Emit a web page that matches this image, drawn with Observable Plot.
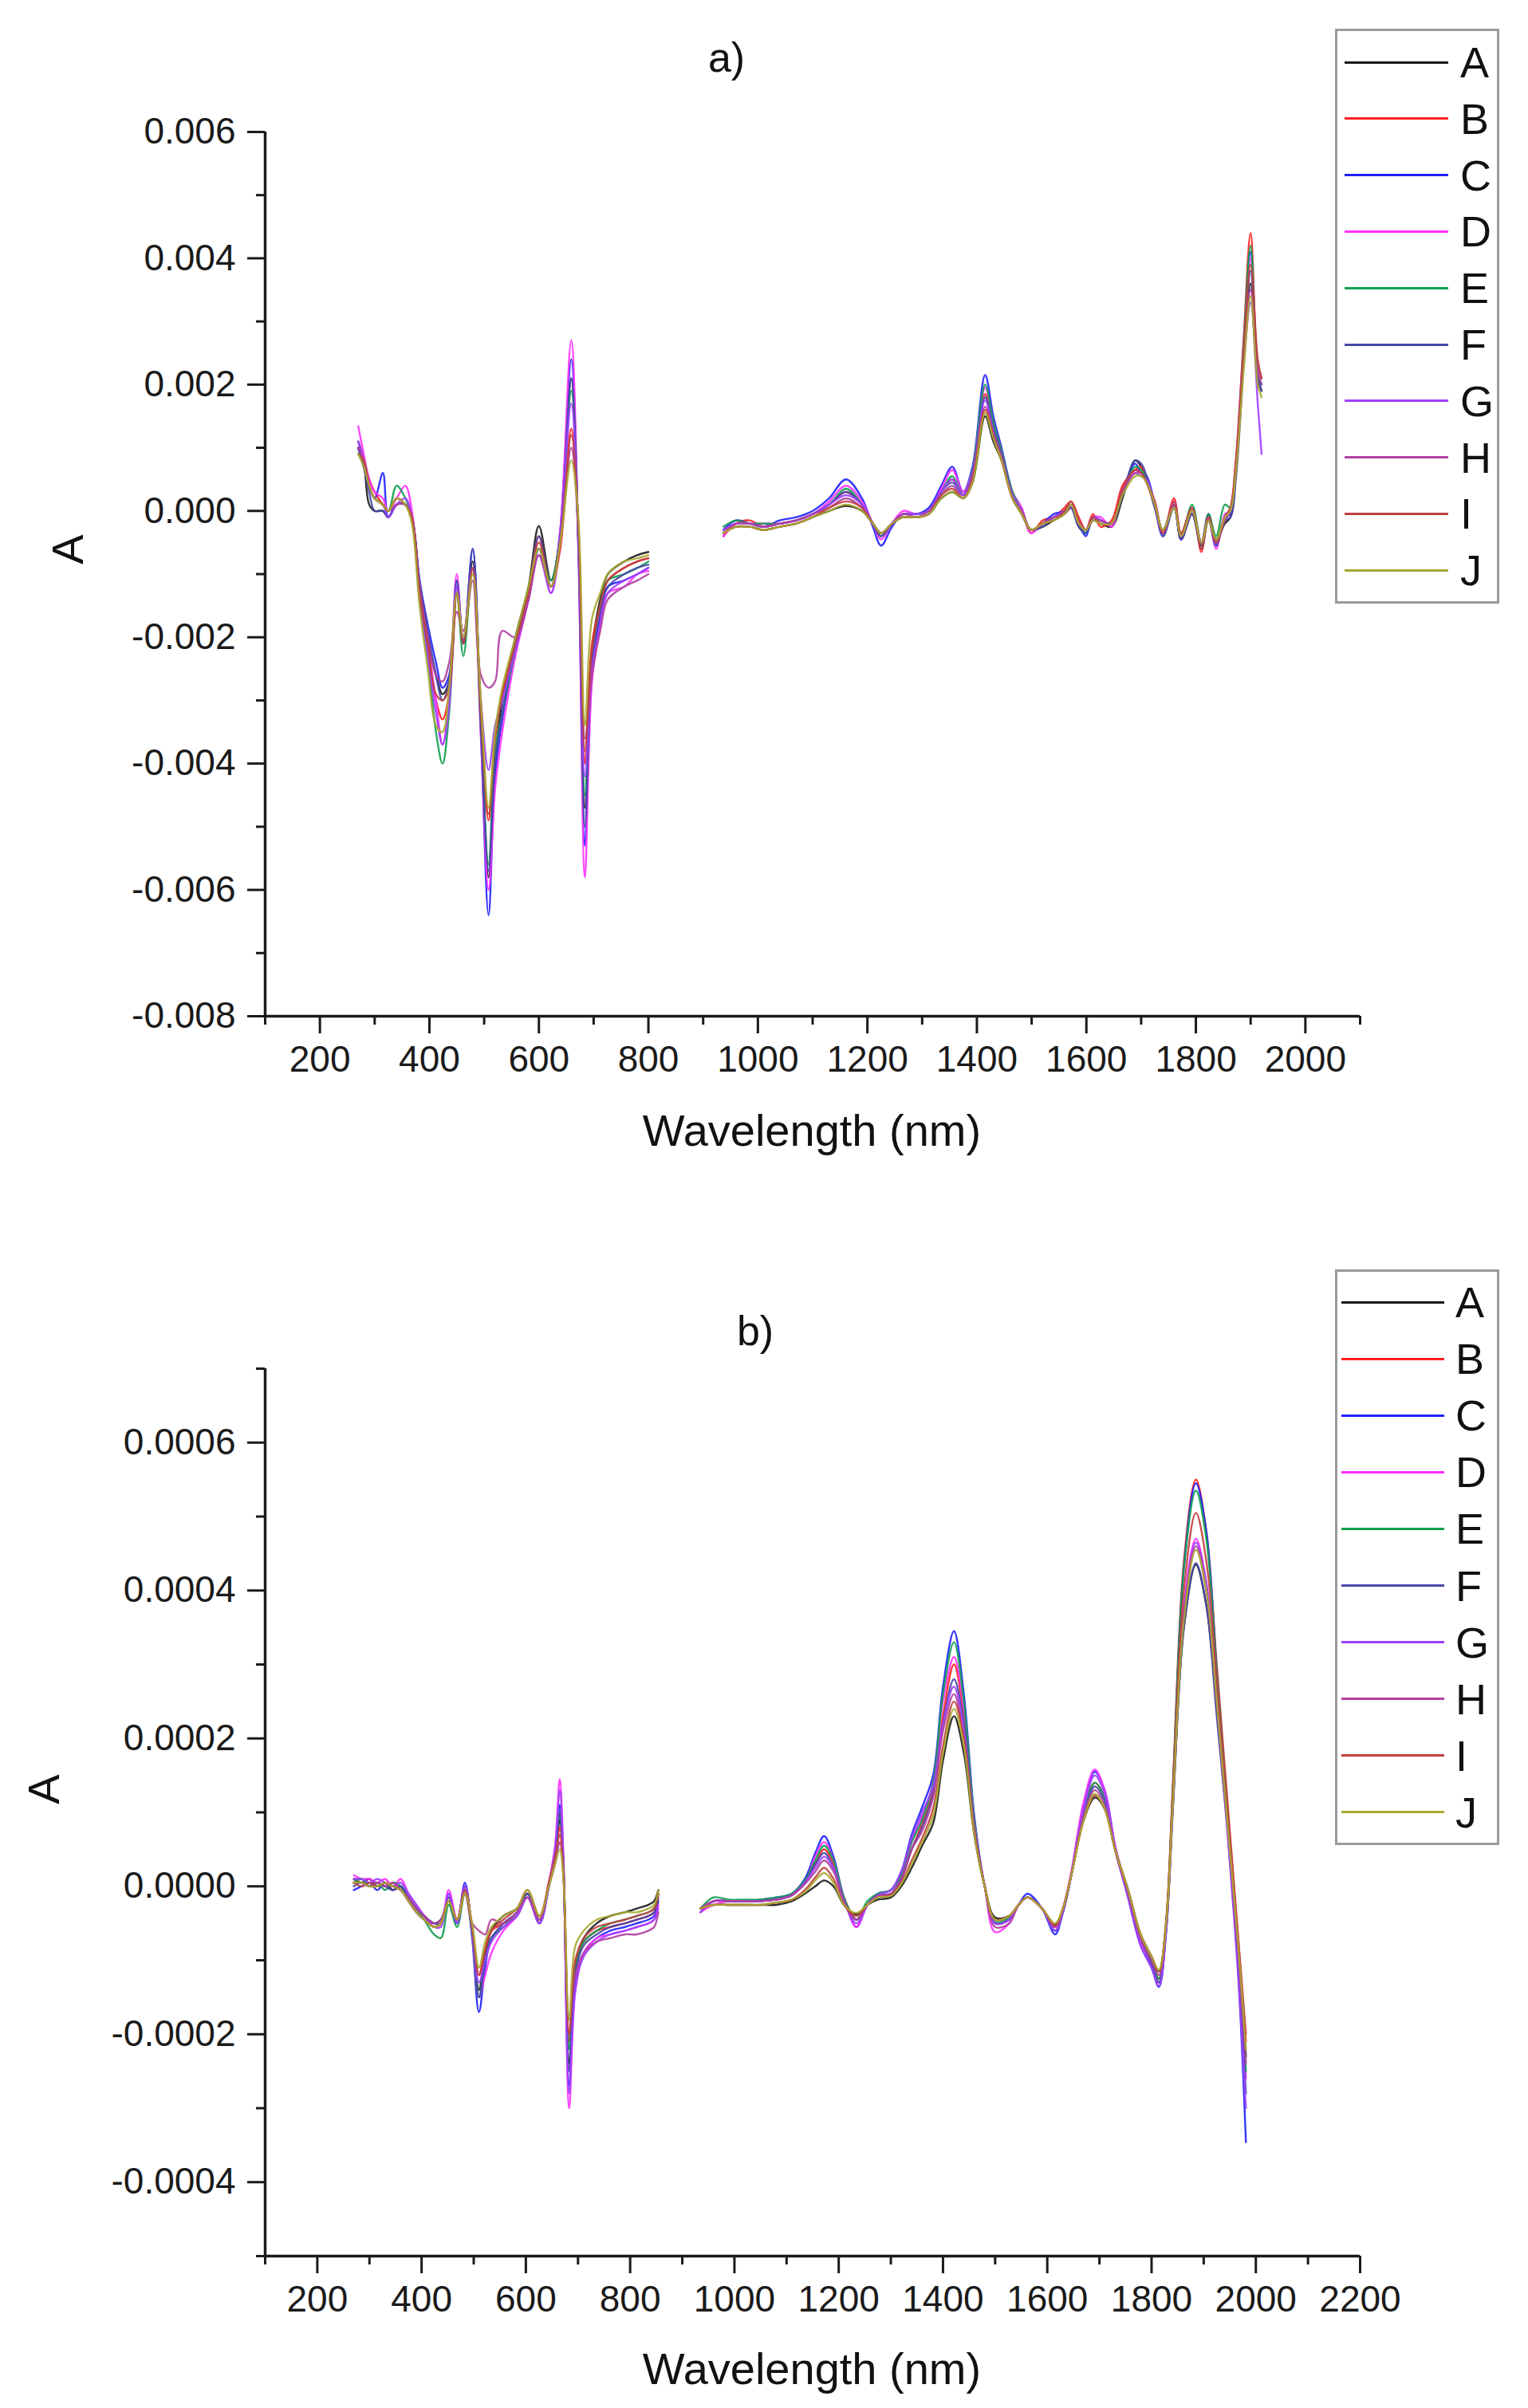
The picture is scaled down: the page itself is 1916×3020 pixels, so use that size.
<!DOCTYPE html>
<html><head><meta charset="utf-8">
<script src="https://cdn.jsdelivr.net/npm/d3@7"></script>
<script src="https://cdn.jsdelivr.net/npm/@observablehq/plot@0.6"></script>
<style>
body{margin:0;background:#fff;}
#page{position:relative;width:1916px;height:3020px;background:#fff;font-family:"Liberation Sans",Arial,sans-serif;color:#111;overflow:hidden;}
.abs{position:absolute;white-space:nowrap;line-height:1;}
.c{transform:translate(-50%,-50%);}
.rot{transform:translate(-50%,-50%) rotate(-90deg);}
.legend{position:absolute;border:3px solid #9a9a9a;box-sizing:border-box;background:#fff;}
svg{position:absolute;left:0;}
</style></head><body><div id="page"></div><script>
// ---------- series ----------
const names = ["A","B","C","D","E","F","G","H","I","J"];
const colors = ["#1a1a1a","#ff2020","#2020ff","#ff30ff","#10a050","#4848a8","#a040ff","#b040a0","#c04040","#a8a830"];

// ---------- panel a) : values in units of 1e-4 ----------
const wlTopVis = [270,280,290,300,315,325,340,356,368,382,397,412,424,436,450,462,479,494,508,520,533,557,581,600,622,639,659,672,684,697,712,726,756,780,800];
const topVis_A = [11,8,1,0,0,-1,1,1,-1,-12,-20,-26,-29,-27,-12,-21,-8,-33,-58,-40,-30,-20,-12,-2.4,-11,-4,21,-4,-47,-22,-14,-10,-8,-7,-6.5];
const topVis_B = [10,8,5,3,1,0,2,1,-1,-13,-22,-30,-33,-29,-13,-21,-9,-32,-49,-36,-29,-21,-13,-4,-12,-6,13,-2,-40,-21,-15,-11,-9,-8,-7.5];
const topVis_C = [10,7,4,2,6,-1,1,1,-1,-11,-18,-24,-28,-26,-11,-21,-6,-35,-64,-42,-33,-22,-14,-6,-12,-3,24,-6,-53,-25,-17,-12,-11,-10,-9];
const topVis_D = [13.4,9,5,3,2,0,2,4,0,-13,-21,-30,-37,-30,-10,-21,-9,-36,-60,-44,-35,-23,-14,-6,-13,-3,27,-5,-58,-27,-18,-13,-12,-10,-9.5];
const topVis_E = [9,8,4,2,1,0,4,2,-1,-13,-23,-35,-40,-32,-13,-23,-9,-34,-56,-38,-32,-22,-13,-6,-11,-4,19,-4,-45,-23,-15,-11,-10,-9,-8];
const topVis_F = [10,7,3,0,0,-1,1,1,-1,-11,-19,-26,-30,-27,-11,-21,-6,-34,-57,-40,-32,-21,-13,-4,-12,-4,21,-5,-50,-24,-16,-12,-10,-9,-8.5];
const topVis_G = [11,8,4,2,1,-1,1,2,-1,-14,-23,-32,-37,-31,-12,-20,-9,-30,-41,-34,-30,-22,-14,-7,-13,-4,17,-4,-42,-25,-18,-13,-11,-10,-9];
const topVis_H = [10,8,4,2,1,0,1,1,-1,-12,-20,-26,-27,-24,-16,-19,-11,-26,-28,-27,-19,-20,-14,-7,-12,-5,10,-3,-36,-26,-19,-14,-12,-11,-10];
const topVis_I = [9,8,4,2,1,0,2,1,-1,-13,-21,-29,-30,-28,-13,-21,-9,-32,-48,-36,-29,-21,-13,-5,-12,-5,12,-2,-38,-22,-15,-11,-9,-8,-7.5];
const topVis_J = [9,7,4,2,1,0,2,1,-2,-15,-25,-34,-35,-28,-13,-20,-10,-30,-47,-35,-28,-20,-12,-6,-12,-5,8,-1,-34,-17,-13,-10,-8,-7.5,-7];

const wlTopNir = [937,960,985,1010,1040,1070,1100,1130,1161,1190,1210,1225,1245,1265,1290,1312,1335,1355,1375,1392,1415,1430,1445,1465,1482,1499,1520,1540,1560,1572,1586,1599,1612,1626,1646,1666,1689,1700,1710,1725,1740,1760,1773,1793,1810,1823,1837,1853,1863,1873,1887,1900,1913,1920];
const topNir_A = [-3.5,-2.5,-2.5,-3,-2.5,-2,-1,0,0.8,0,-2,-3.5,-2,-1,-1,-0.5,2,3,2,4.5,15,11,8,2,-0.5,-3,-2.5,-1.5,-0.5,0.5,-2.5,-3.5,-1.5,-2,-2.5,2,8,7,5,0.5,-3,0.5,-4.5,-0.5,-5.5,-1.5,-4.5,-2,-1,6,24,36,21,19];
const topNir_B = [-4,-2,-1.5,-2.5,-2,-1.5,-0.5,1,3,1,-2,-4,-2,-0.5,-0.5,0,3,5,2.5,6,18.5,13,9,2.5,0,-3.5,-1.5,-1,0.5,1.5,-1,-3,-0.5,-2.5,-1.5,4,6.5,7,4.5,1,-3.5,2,-3.5,0.5,-6.5,-0.5,-5,-1,0.5,8,27,44,23,21];
const topNir_C = [-3,-1.5,-2,-2.5,-1.5,-1,0,2,5,2,-2.5,-5.5,-2.5,-0.5,-0.5,0.5,4,7,3,7,21.5,15,10,3,0,-3,-2,-0.5,0,1,-2,-4,-1,-1.5,-2,3,7.5,6,5.5,1,-4,1,-4.5,0,-5,-0.5,-5.5,-1,-0.5,6.5,25,41,22,20];
const topNir_D = [-4,-2,-2,-2,-2,-1.5,-0.5,1.5,4,1.5,-2,-4.5,-2,0,-0.5,0,3.5,6.5,3,6.5,19.5,14,9.5,3,0.5,-3.5,-2,-1,0,0.5,-1.5,-3,-1,-1,-2.5,3.5,6.5,6,4.5,1.5,-3.5,1.5,-4,0.5,-5,-1,-6,-0.5,0,7.5,26,40,23,21];
const topNir_E = [-2.5,-1.5,-2,-2,-2,-1.5,-0.5,1,3.5,1,-2,-4,-2,-0.5,-0.5,0,3,5.5,2.5,6.5,20,14,9.5,3,0,-3,-2,-1,0,1,-2,-3.5,-1,-1.5,-2,3,7,6.5,5,1,-3,1,-4,1,-5,-0.5,-4,1,0.5,7,26,42,22,20];
const topNir_F = [-3,-2,-2,-2.5,-2,-1.5,-0.5,1,3,1,-2,-4,-2,-0.5,-0.5,0,3,4.5,2.5,6,18,13,9,2.5,-0.5,-3,-2.5,-1,0,0.5,-2.5,-3.5,-1,-1.5,-2,2.5,8,7.5,5.5,0.5,-4,0.5,-4.5,-0.5,-6,-1.5,-5.5,-1.5,-1,5,23,38,21,19];
const topNir_G = [-3,-2,-2,-2.5,-2,-1.5,-0.5,1,2.5,1,-2,-3.5,-2,-0.5,-0.5,0,3,5,2.5,6,17.5,12.5,8.5,2.5,0,-3,-2,-1,0,1,-2,-3,-1,-1.5,-2,3,6,5.5,5,1,-3.5,1,-4,0,-5,-1,-5,-1,0,6.5,23,33,17,9];
const topNir_H = [-3.5,-2,-2,-2.5,-2,-1.5,-0.5,0.5,2,0.5,-2,-3.5,-2,-0.5,-1,0,2.5,4,2,5.5,16.5,12,8.5,2,0,-3,-2,-1,-0.5,1,-2,-3,-1.5,-1.5,-2,3,6,6,4.5,1,-3,1,-4,0,-5,-1,-5,-1.5,0,7,24,35,22,20];
const topNir_I = [-3.5,-2.5,-2.5,-3,-2.5,-2,-1,0.5,1.5,0.5,-2,-3.5,-2,-1,-1,-0.5,2.5,3.5,2,5,16,12,8,2,-0.5,-3,-2,-1.5,0,1.5,-1.5,-3,-1,-2,-2,3.5,6.5,6,4.5,1.5,-3.5,1.5,-3.5,0.5,-6,-1,-5,-1,0.5,7.5,25,39,24,21];
const topNir_J = [-3.5,-2.5,-2.5,-3,-2.5,-2,-1,0,1,0,-2,-3.5,-2,-1,-1,-0.5,2,3,2,4.5,15.5,11.5,8,2,-0.5,-3,-2,-1.5,-0.5,1,-2,-3,-1.5,-2,-2,2.5,5.5,5.5,4.5,1,-3,0.5,-4,0,-5,-1.5,-4.5,-1,0,6,22,34,20,18];

// ---------- panel b) : values in units of 1e-5 ----------
const wlBotVis = [270,285,300,315,330,345,360,375,390,405,424,437,452,468,483,497,510,522,534,557,583,603,626,644,656,665,672,683,695,711,736,762,790,813,835,846,854];
const botVis_A = [1,0.5,1,0,0.5,-0.5,0,-1.5,-3,-4,-5,-4.5,-2,-4.5,-0.5,-6,-14,-9,-6,-4,-3,-1,-4.5,0,4,9,2,-24,-11,-7,-5,-4,-3.5,-3,-2.5,-2,-0.5];
const botVis_B = [0.5,1,0,0.5,0,0.5,-0.5,-1.5,-3,-4,-5.5,-5,-1.5,-4.5,0,-5.5,-12,-8.5,-6,-5,-3.5,-1,-4.5,0.5,4,8,2,-21,-10,-7.5,-6,-5.5,-5,-4.5,-4,-3.5,-1];
const botVis_C = [-0.5,0,0.5,-0.5,0.5,0,-0.5,-2,-3.5,-4.5,-5,-5,-1,-5,0.5,-7,-17,-11,-7,-5.5,-4,-1.5,-5,0,4.5,11,3,-27,-13,-9,-7,-6,-5.5,-5,-4.5,-4,-2];
const botVis_D = [1.5,1,1,0.5,1,0,1,-1,-2.5,-4,-5.5,-5,-0.5,-4.5,0,-6.5,-15,-12,-9,-6,-4,-1.5,-5,0.5,5.5,14.5,4,-30,-14,-9,-7,-6.5,-6,-5.5,-5,-4.5,-2.5];
const botVis_E = [0.5,1,0,0.5,-0.5,0.5,0,-1.5,-3,-4.5,-6.5,-7,-2.5,-5.5,-1,-6.5,-15,-10,-7,-5.5,-3.5,-1,-4.5,0,4.5,10,3,-22,-11,-7.5,-6,-5,-4.5,-4,-3.5,-3,-1];
const botVis_F = [0,0.5,0,0.5,0,-0.5,0,-1.5,-3,-4,-5,-5,-1.5,-5,0,-6,-15,-10,-7,-5,-3.5,-1,-5,0,4.5,10,2.5,-25,-12,-8,-6.5,-5.5,-5,-4.5,-4,-3.5,-1.5];
const botVis_G = [1,1,0.5,1,0.5,0,0.5,-1,-2.5,-4,-5.5,-5.5,-1,-5,0,-6,-13,-10,-7.5,-5.5,-4,-1.5,-5,0,5,13,3.5,-28,-14,-9.5,-7.5,-6.5,-6,-5.5,-5,-4.5,-3];
const botVis_H = [0.5,0.5,0,0.5,0,0.5,-0.5,-1.5,-3,-4,-5,-4.5,-2,-4.5,-1,-5,-6,-6.5,-4.5,-5,-3.5,-1.5,-4.5,0,3,6,1.5,-18,-12,-9,-7.5,-7,-6.5,-6.5,-6,-5.5,-3.5];
const botVis_I = [0.5,0,0.5,0,0.5,0,-0.5,-2,-3.5,-4.5,-5.5,-5,-2,-4.5,-0.5,-5.5,-12,-8.5,-6,-4.5,-3,-0.5,-4,0.5,4,7,2,-20,-10,-7,-5.5,-5,-4.5,-4,-3.5,-3,-1];
const botVis_J = [0.5,0.5,0,0,0.5,0,-0.5,-2,-3.5,-4.5,-5.5,-5,-2,-4.5,-1,-5,-11,-7.5,-5.5,-4,-3,-0.5,-4,0,3,5,1,-18,-8,-6,-4.5,-4,-3.5,-3.5,-3,-2.5,-0.5];

const wlBotNir = [935,960,990,1020,1050,1080,1110,1135,1155,1172,1190,1210,1234,1255,1275,1300,1320,1340,1360,1381,1400,1421,1440,1460,1480,1500,1527,1545,1562,1590,1615,1630,1646,1670,1691,1710,1730,1755,1779,1800,1814,1828,1841,1862,1885,1905,1925,1945,1965,1981];
const botNir_A = [-3,-2.5,-2.5,-2.5,-2.5,-2.5,-2,-1,0,0.8,0,-2.5,-3.8,-2.5,-1.8,-1.5,0,2.5,5.5,8.5,17,23,18,7,0,-4.2,-4,-2.5,-1.5,-3,-5.2,-3,1.5,9,12,10.5,5,-0.5,-6.5,-9.5,-11.5,-5,11,35,43.5,38,24,9,-7,-23];
const botNir_B = [-3,-2,-2,-2,-2,-1.8,-1.2,0.5,3,5,3,-1.5,-4.5,-2.5,-1.2,-1,1,5,8.5,13,23,30,23,8.5,0,-4.5,-4,-2.5,-1.5,-3,-5.5,-3,1.5,10,14,12,5,-1,-7,-10,-12.5,-5,14,44,55,48,30,12,-6,-21];
const botNir_C = [-3.5,-2,-2,-2,-1.8,-1.5,-1,1,4.5,6.8,4,-1.5,-5.5,-2.5,-1,-0.5,2,7,10.7,15,27,34.5,26,9.5,0,-5,-4.5,-2.5,-1,-3,-6.5,-3.5,1.5,11,15.5,13,5.5,-1.5,-8,-11,-13.6,-6,13,43,54.5,48,29,10,-10,-34.6];
const botNir_D = [-3.5,-2.5,-2,-2,-2,-1.8,-1.2,0.5,4,6,3.5,-1.5,-5.5,-2.5,-1.2,-1,1.5,6,9.5,14,25,31,24,9,0,-6.2,-5,-2.5,-1.5,-3,-5.5,-3,2,11.5,15.8,13,5.5,-1,-7.5,-10.5,-13,-5.5,12,38,47,41,26,10,-8,-26];
const botNir_E = [-3,-1.5,-1.8,-1.8,-1.8,-1.5,-1,0.8,3.5,5.5,3.5,-1.5,-4.5,-2,-1,-0.5,1.5,6,9,14,26,33,25,9,0,-4.8,-4.2,-2.5,-1.5,-3,-6,-3.5,1.5,10,14,12,5,-1,-7,-10,-12.5,-5,13.5,43,53.5,47,29,11,-8,-25];
const botNir_F = [-3,-2,-2,-2,-2,-1.8,-1.2,0.5,3,4.5,2.5,-2,-4.5,-2.5,-1.2,-1,1,5,8,12.5,22,28,22,8,0,-5,-4.5,-2.5,-1.5,-3,-6,-3.5,1.5,9.5,13.5,11.5,5,-1,-7,-10.5,-13,-6,10.5,35,43.7,38,23,8,-10,-28];
const botNir_G = [-3.5,-2,-2,-2,-2,-1.8,-1.2,0.5,2.5,4,2.5,-2,-5,-2.5,-1.2,-0.5,2,6.5,10,13.5,22,27,21,8,0,-5,-4.5,-2.5,-1.5,-3,-6,-3.5,1.5,10.5,15,12.5,5,-1.5,-8,-11,-13.5,-6,11.5,37,46.5,41,25,8,-11,-30];
const botNir_H = [-3,-2,-2,-2,-2,-1.8,-1.2,0.3,2,3.5,2,-2,-4.5,-2.5,-1.3,-1,1,5,7.5,12,21,26,20,7.5,0,-5.5,-5,-2.5,-1.5,-3,-5.5,-3,1.5,9.5,13,11,5,-1,-7,-10,-12,-5,11.5,37,46,40,25,9,-8,-24];
const botNir_I = [-3,-2.5,-2.5,-2.5,-2.5,-2.2,-1.8,-0.5,1.2,2.5,1,-2.5,-4,-2.5,-1.5,-1.2,0.5,3.5,6.5,10.5,19,25,20,7.5,0,-4.5,-4,-2.5,-1.5,-3,-5.3,-3,1.5,9,12.3,10.5,5,-0.5,-6.5,-9.5,-11.5,-4.5,13,40,50.5,44,28,11,-6,-20];
const botNir_J = [-3,-2.5,-2.5,-2.5,-2.5,-2.2,-1.8,-0.8,0.8,1.8,0.5,-2.5,-3.6,-2.5,-1.5,-1.3,0.3,3,6,9.5,18,24,19,7,0,-4.5,-4,-2.5,-1.5,-3,-5,-3,1.5,9,12.5,10.5,5,-0.5,-6.5,-9.5,-11.3,-5,11.5,36,45.5,40,25,9,-7,-22];

// ---------- ticks ----------
const xMajorA = [200,400,600,800,1000,1200,1400,1600,1800,2000];
const xMinorA = [100,300,500,700,900,1100,1300,1500,1700,1900,2100];
const yMajorA = [-0.008,-0.006,-0.004,-0.002,0,0.002,0.004,0.006];
const yMinorA = [-0.007,-0.005,-0.003,-0.001,0.001,0.003,0.005];
const xMajorB = [200,400,600,800,1000,1200,1400,1600,1800,2000,2200];
const xMinorB = [100,300,500,700,900,1100,1300,1500,1700,1900,2100];
const yMajorB = [-0.0004,-0.0002,0,0.0002,0.0004,0.0006];
const yMinorB = [-0.0005,-0.0003,-0.0001,0.0001,0.0003,0.0005,0.0007];

const topVis = [topVis_A,topVis_B,topVis_C,topVis_D,topVis_E,topVis_F,topVis_G,topVis_H,topVis_I,topVis_J];
const topNir = [topNir_A,topNir_B,topNir_C,topNir_D,topNir_E,topNir_F,topNir_G,topNir_H,topNir_I,topNir_J];
const botVis = [botVis_A,botVis_B,botVis_C,botVis_D,botVis_E,botVis_F,botVis_G,botVis_H,botVis_I,botVis_J];
const botNir = [botNir_A,botNir_B,botNir_C,botNir_D,botNir_E,botNir_F,botNir_G,botNir_H,botNir_I,botNir_J];

const FONT = '"Liberation Sans", Arial, sans-serif';
const page = document.getElementById("page");

function panel(o){
  const rows = [];
  names.forEach((n,i)=>{
    o.wlVis.forEach((w,j)=>rows.push({wl:w, v:o.vis[i][j]*o.unit, s:n, seg:"vis"}));
    o.wlNir.forEach((w,j)=>rows.push({wl:w, v:o.nir[i][j]*o.unit, s:n, seg:"nir"}));
  });
  const svg = Plot.plot({
    width:1916, height:o.height,
    marginLeft:332, marginRight:211, marginTop:o.mt, marginBottom:o.mb,
    style:{fontFamily:FONT, fontSize:"46px", color:"#1a1a1a", background:"transparent", overflow:"visible"},
    x:{domain:o.xDomain},
    y:{domain:o.yDomain},
    color:{domain:names, range:colors},
    marks:[
      Plot.line(rows,{x:"wl", y:"v", z:d=>d.s+"-"+d.seg, stroke:"s", strokeWidth:2.4, strokeOpacity:0.9, curve:"catmull-rom"}),
      Plot.axisX({ticks:o.xMinor, tickSize:11, strokeWidth:3, tickFormat:()=>"", label:null}),
      Plot.axisX({ticks:o.xMajor, tickSize:22, strokeWidth:3, tickPadding:15, tickFormat:d=>String(d), label:null, fontSize:46}),
      Plot.axisY({ticks:o.yMinor, tickSize:11, strokeWidth:3, tickFormat:()=>"", label:null}),
      Plot.axisY({ticks:o.yMajor, tickSize:22, strokeWidth:3, tickPadding:15, tickFormat:o.yFmt, label:null, fontSize:46}),
      Plot.ruleX([o.xDomain[0]],{stroke:"#1a1a1a", strokeWidth:3.5}),
      Plot.ruleY([o.yDomain[0]],{stroke:"#1a1a1a", strokeWidth:3.5})
    ]
  });
  svg.style.top = o.top + "px";
  page.appendChild(svg);
}

panel({wlVis:wlTopVis, wlNir:wlTopNir, vis:topVis, nir:topNir, unit:1e-4,
  xDomain:[100,2100], yDomain:[-0.008,0.006], xMajor:xMajorA, xMinor:xMinorA, yMajor:yMajorA, yMinor:yMinorA,
  yFmt:d=>d.toFixed(3), height:1500, mt:165, mb:226, top:0});
panel({wlVis:wlBotVis, wlNir:wlBotNir, vis:botVis, nir:botNir, unit:1e-5,
  xDomain:[100,2200], yDomain:[-0.0005,0.0007], xMajor:xMajorB, xMinor:xMinorB, yMajor:yMajorB, yMinor:yMinorB,
  yFmt:d=>d.toFixed(4), height:1520, mt:216, mb:191, top:1500});

function text(str, x, y, size, cls){
  const d = document.createElement("div");
  d.className = "abs " + cls;
  d.textContent = str;
  d.style.left = x + "px"; d.style.top = y + "px"; d.style.fontSize = size + "px";
  page.appendChild(d);
}
text("a)", 911, 72, 52, "c");
text("b)", 947, 1669, 52, "c");
text("Wavelength (nm)", 1018, 1418, 56, "c");
text("Wavelength (nm)", 1018, 2971, 56, "c");
text("A", 85, 689, 56, "rot");
text("A", 55, 2244, 56, "rot");

function legend(o){
  const box = document.createElement("div");
  box.className = "legend";
  Object.assign(box.style,{left:o.left+"px", top:o.top+"px", width:o.w+"px", height:o.h+"px"});
  page.appendChild(box);
  names.forEach((n,i)=>{
    const y = o.y0 + i*o.dy;
    const ln = document.createElement("div");
    Object.assign(ln.style,{position:"absolute", left:o.lx1+"px", width:(o.lx2-o.lx1)+"px", top:(y-1.5)+"px", height:"3px", background:colors[i]});
    page.appendChild(ln);
    text(n, o.tx, y-27, 54, "");
  });
}
legend({left:1674, top:36, w:206, h:721, y0:78, dy:70.8, lx1:1686, lx2:1816, tx:1831});
legend({left:1674, top:1592, w:206, h:722, y0:1633, dy:71.1, lx1:1682, lx2:1811, tx:1825});
</script></body></html>
